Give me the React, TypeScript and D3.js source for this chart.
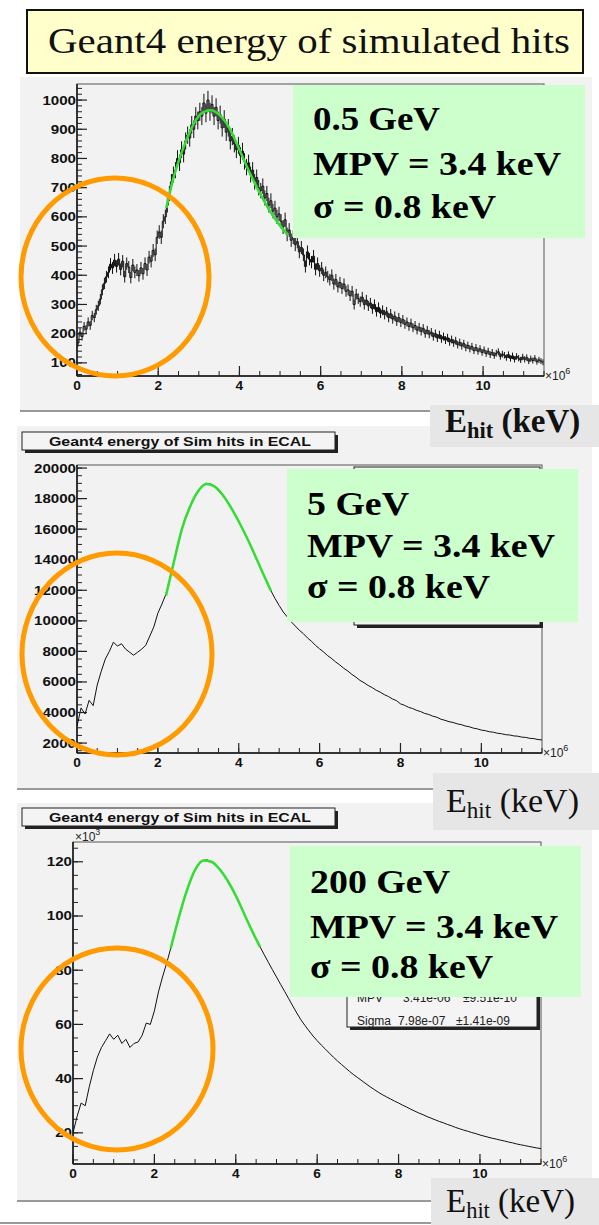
import * as d3 from "d3";

const SERIF = "'Liberation Serif', 'Times New Roman', serif";
const SANS = "'Liberation Sans', Arial, Helvetica, sans-serif";

// x axis: hit energy in units of 1e-6 GeV (= keV)
const xTicks = [0, 2, 4, 6, 8, 10];
const energyLabels = ["0.5 GeV", "5 GeV", "200 GeV"];
const mpvLabel = "MPV = 3.4 keV";
const sigmaLabel = "σ = 0.8 keV";
const histTitle = "Geant4 energy of Sim hits in ECAL";
const pageTitle = "Geant4 energy of simulated hits";

// 0.5 GeV: entries per 0.05 bin
const hist05 = [
  168, 205, 190, 225, 215, 240, 228, 262, 255, 282,
  295, 318, 350, 372, 395, 410, 438, 425, 452, 430,
  455, 420, 448, 395, 440, 428, 392, 435, 410, 418,
  398, 425, 405, 440, 418, 462, 448, 485, 470, 530,
  548, 530, 585, 600, 640, 680, 720, 745, 760, 800,
  785, 830, 815, 860, 880, 870, 915, 900, 945, 930,
  960, 945, 990, 955, 1000, 960, 985, 945, 975, 930,
  950, 905, 935, 890, 905, 860, 875, 850, 830, 845,
  810, 825, 790, 770, 785, 745, 760, 720, 735, 700,
  690, 705, 665, 680, 640, 655, 620, 630, 600, 610,
  585, 565, 590, 540, 555, 520, 530, 505, 515, 480,
  495, 470, 430, 480, 455, 445, 465, 420, 440, 415,
  425, 400, 410, 395, 385, 400, 370, 385, 360, 375,
  355, 370, 345, 350, 330, 345, 300, 335, 320, 310,
  325, 300, 315, 295, 305, 285, 300, 275, 290, 270,
  280, 265, 275, 255, 268, 250, 260, 242, 255, 238,
  248, 232, 240, 225, 236, 220, 228, 212, 222, 208,
  218, 200, 212, 198, 205, 190, 200, 185, 196, 182,
  190, 178, 186, 172, 180, 168, 176, 162, 170, 158,
  166, 152, 160, 148, 156, 142, 152, 140, 148, 136,
  144, 132, 140, 128, 136, 125, 133, 138, 122, 130,
  126, 118, 128, 115, 124, 112, 122, 116, 110, 120,
  112, 118, 106, 114, 108, 116, 104, 110, 106, 102,
];
const fit05X = [2.2, 2.35, 2.5, 2.7, 2.9, 3.1, 3.3, 3.5, 3.75, 4.0, 4.25, 4.5, 4.75, 5.0, 5.2];
const fit05 = [630, 720, 790, 865, 925, 958, 965, 950, 905, 830, 752, 682, 620, 570, 538];

// 5 GeV: entries every 0.1
const hist5 = [
  3100, 4300, 3900, 4800, 4450, 5800, 6700, 7500, 8000, 8600,
  8350, 8500, 8150, 7950, 7750, 7950, 8150, 8400, 9000, 9600,
  10500, 11100, 11750, 12800, 13900, 15100, 16100, 16900, 17500, 18100,
  18550, 18850, 19000, 18950, 18800, 18500, 18200, 17850, 17450, 17000,
  16500, 16000, 15450, 14900, 14300, 13700, 13100, 12500, 11950, 11450,
  11000, 10580, 10260, 9930, 9660, 9380, 9160, 8880, 8660, 8390,
  8170, 7960, 7720, 7530, 7300, 7110, 6890, 6710, 6490, 6310,
  6100, 5950, 5770, 5630, 5460, 5330, 5170, 5050, 4890, 4780,
  4570, 4470, 4340, 4260, 4140, 4060, 3940, 3870, 3760, 3690,
  3560, 3490, 3400, 3350, 3260, 3210, 3120, 3070, 2980, 2930,
  2850, 2810, 2740, 2710, 2640, 2610, 2550, 2530, 2470, 2450,
  2390, 2370, 2310, 2290, 2230, 2210,
];
const fit5X = [2.2, 2.4, 2.6, 2.8, 3.0, 3.2, 3.4, 3.6, 3.8, 4.0, 4.2, 4.4, 4.6, 4.8];
const fit5 = [11650, 13900, 16050, 17500, 18500, 18950, 18800, 18250, 17450, 16500, 15450, 14300, 13100, 11950];

// 200 GeV: entries (x10^3) every 0.1
const hist200 = [
  20, 26, 31, 30, 37, 43, 48, 51.5, 54, 56.5,
  54.5, 56, 53, 54.5, 51.5, 53, 53.5, 56, 60.5, 60,
  65, 72, 77.5, 82.5, 88, 94, 99.5, 104.5, 109.5, 113.5,
  117, 119.3, 120.5, 120.7, 120, 119, 117.3, 115.3, 113, 110.5,
  107.5, 104.3, 101, 97.7, 94.5, 91.5, 88.5, 85.7, 82.9, 80.2,
  77.5, 74.8, 72.2, 69.5, 66.8, 64.2, 61.7, 59.6, 57.6, 55.7,
  54, 52.4, 50.9, 49.4, 47.9, 46.5, 45.2, 43.9, 42.6, 41.4,
  40.3, 39.2, 38.1, 37, 36, 35, 34.1, 33.3, 32.5, 31.7,
  31, 30.2, 29.5, 28.7, 28, 27.3, 26.7, 26, 25.4, 24.8,
  24.2, 23.7, 23.1, 22.6, 22, 21.5, 21, 20.6, 20.1, 19.7,
  19.2, 18.8, 18.4, 18, 17.7, 17.3, 17, 16.6, 16.3, 15.9,
  15.6, 15.3, 15, 14.7, 14.4, 14.2,
];
const fit200X = [2.4, 2.6, 2.8, 3.0, 3.2, 3.4, 3.6, 3.8, 4.0, 4.2, 4.4, 4.6];
const fit200 = [88, 99.5, 109.5, 117, 120.5, 120, 117.3, 113, 107.5, 101, 94.5, 88.5];

const yTicks05 = [100, 200, 300, 400, 500, 600, 700, 800, 900, 1000];
const yTicks5 = [2000, 4000, 6000, 8000, 10000, 12000, 14000, 16000, 18000, 20000];
const yTicks200 = [20, 40, 60, 80, 100, 120];

function Panel({ id, left, right, top, bottom, yDomain, yTicks, yMinor, hist, binStart, binW, step, errors, fitX, fitY }) {
  const x = d3.scaleLinear([0, 11.5], [left, right]);
  const y = d3.scaleLinear(yDomain, [bottom, top]);
  const line = d3.line<number>()
    .x((_, i) => x(binStart + i * binW))
    .y((d) => y(d))
    .curve(step ? d3.curveStep : d3.curveLinear);
  const fit = d3.line<number>()
    .x((_, i) => x(fitX[i]))
    .y((d) => y(d))
    .curve(d3.curveMonotoneX);
  const yMin = d3.range(Math.ceil(yDomain[0] / yMinor) * yMinor, yDomain[1], yMinor);
  const xMin = d3.range(0, 11.51, 0.5);
  return (
    <g>
      <defs>
        <clipPath id={id}>
          <rect x={left} y={top} width={right - left} height={bottom - top} />
        </clipPath>
      </defs>
      <rect x={left} y={top} width={right - left} height={bottom - top} fill="#f2f2f2" stroke="#555" strokeWidth={1} />
      <g clipPath={`url(#${id})`}>
        <path d={line(hist)} fill="none" stroke="#111" strokeWidth={1} />
        {errors && hist.map((v, i) => (
          <line key={i} x1={x(binStart + i * binW)} x2={x(binStart + i * binW)}
            y1={y(v - Math.sqrt(v))} y2={y(v + Math.sqrt(v))} stroke="#111" strokeWidth={1} />
        ))}
        <path d={fit(fitY)} fill="none" stroke="#33dd33" strokeWidth={2.5} />
      </g>
      <line x1={left} x2={left} y1={top} y2={bottom} stroke="#111" strokeWidth={1.5} />
      <line x1={left} x2={right} y1={bottom} y2={bottom} stroke="#111" strokeWidth={1.5} />
      {yMin.map((v) => (
        <line key={"ym" + v} x1={left} x2={left + 5} y1={y(v)} y2={y(v)} stroke="#222" />
      ))}
      {yTicks.map((v) => (
        <g key={"y" + v}>
          <line x1={left} x2={left + 10} y1={y(v)} y2={y(v)} stroke="#222" strokeWidth={1.2} />
          <text x={left - 1} y={y(v) + 4.5} textAnchor="end" fontFamily={SANS} fontWeight="bold" fontSize={13}
            textLength={String(v).length * 8.4} lengthAdjust="spacingAndGlyphs" fill="#111">{v}</text>
        </g>
      ))}
      {xMin.map((v) => (
        <line key={"xm" + v} x1={x(v)} x2={x(v)} y1={bottom} y2={bottom - 5} stroke="#222" />
      ))}
      {xTicks.map((v) => (
        <g key={"x" + v}>
          <line x1={x(v)} x2={x(v)} y1={bottom} y2={bottom - 10} stroke="#222" strokeWidth={1.2} />
          <text x={x(v)} y={bottom + 14} textAnchor="middle" fontFamily={SANS} fontWeight="bold" fontSize={13}
            textLength={String(v).length * 7.6} lengthAdjust="spacingAndGlyphs" fill="#111">{v}</text>
        </g>
      ))}
      <text x={right + 1} y={bottom + 4} fontFamily={SANS} fontSize={12} fill="#222">
        ×10<tspan dy={-6} fontSize={9}>6</tspan>
      </text>
    </g>
  );
}

function GreenBox({ x, y, w, h, label, labelW, lines }) {
  return (
    <g>
      <rect x={x} y={y} width={w} height={h} fill="#ccffcc" />
      <text x={x + 20} y={lines[0]} fontFamily={SERIF} fontWeight="bold" fontSize={34} textLength={labelW} lengthAdjust="spacingAndGlyphs">{label}</text>
      <text x={x + 20} y={lines[1]} fontFamily={SERIF} fontWeight="bold" fontSize={34} textLength={248} lengthAdjust="spacingAndGlyphs">{mpvLabel}</text>
      <text x={x + 20} y={lines[2]} fontFamily={SERIF} fontWeight="bold" fontSize={34} textLength={183} lengthAdjust="spacingAndGlyphs">{sigmaLabel}</text>
    </g>
  );
}

function Pave({ x, y, w, h }) {
  return (
    <g>
      <rect x={x + 3} y={y + 3} width={w} height={h} fill="#222" />
      <rect x={x} y={y} width={w} height={h} fill="#f4f4f4" stroke="#222" strokeWidth={1} />
    </g>
  );
}

function EhitLabel({ x, y, w, h, tx, ty, bold, size }) {
  return (
    <g>
      <rect x={x} y={y} width={w} height={h} fill="#e6e6e6" />
      <text x={tx} y={ty} fontFamily={SERIF} fontWeight={bold ? "bold" : "normal"} fontSize={size} fill="#111">
        E<tspan dy={6} fontSize={size * 0.68}>hit</tspan><tspan dy={-6}> (keV)</tspan>
      </text>
    </g>
  );
}

export default function App() {
  return (
    <svg width={599} height={1225} style={{ position: "absolute", left: 0, top: 0, background: "#fff" }}>
      {/* page title */}
      <rect x={27} y={10} width={556} height={63} fill="#ffffcc" stroke="#111" strokeWidth={2} />
      <text x={48} y={53} fontFamily={SERIF} fontSize={36} textLength={522} lengthAdjust="spacingAndGlyphs" fill="#111">{pageTitle}</text>

      {/* panel 1 */}
      <rect x={20} y={77} width={572} height={333} fill="#f2f2f2" />
      <line x1={20} x2={430} y1={411} y2={411} stroke="#999" strokeWidth={2} />
      <Panel id="c1" left={77} right={544} top={84} bottom={376} yDomain={[55, 1055]} yTicks={yTicks05} yMinor={20}
        hist={hist05} binStart={0.025} binW={0.05} step errors fitX={fit05X} fitY={fit05} />
      <GreenBox x={293} y={85} w={292} h={153} label={energyLabels[0]} labelW={127} lines={[130, 175, 218]} />
      <ellipse cx={115} cy={277} rx={94} ry={99} fill="none" stroke="#ff9a00" strokeWidth={5} />

      {/* panel 2 */}
      <rect x={17} y={426} width={575} height={362} fill="#f2f2f2" />
      <line x1={17} x2={433} y1={789} y2={789} stroke="#999" strokeWidth={2} />
      <Pave x={22} y={432} w={313} h={18} />
      <text x={180} y={446} textAnchor="middle" fontFamily={SANS} fontWeight="bold" fontSize={13} textLength={262} lengthAdjust="spacingAndGlyphs" fill="#111">{histTitle}</text>
      <Panel id="c2" left={77} right={542} top={465} bottom={753} yDomain={[1350, 20200]} yTicks={yTicks5} yMinor={500}
        hist={hist5} binStart={0} binW={0.1} step={false} errors={false} fitX={fit5X} fitY={fit5} />
      <Pave x={354} y={467} w={186} h={158} />
      <GreenBox x={287} y={469} w={291} h={153} label={energyLabels[1]} labelW={102} lines={[515, 557, 598]} />
      <ellipse cx={117} cy={654} rx={95} ry={101} fill="none" stroke="#ff9a00" strokeWidth={5} />

      {/* panel 3 */}
      <rect x={17} y={803} width={575} height={397} fill="#f2f2f2" />
      <line x1={17} x2={431} y1={1201} y2={1201} stroke="#999" strokeWidth={2} />
      <line x1={0} x2={431} y1={1223} y2={1223} stroke="#999" strokeWidth={2} />
      <Pave x={22} y={808} w={313} h={18} />
      <text x={180} y={822} textAnchor="middle" fontFamily={SANS} fontWeight="bold" fontSize={13} textLength={262} lengthAdjust="spacingAndGlyphs" fill="#111">{histTitle}</text>
      <Panel id="c3" left={73} right={541} top={842} bottom={1164} yDomain={[8.5, 127.3]} yTicks={yTicks200} yMinor={5}
        hist={hist200} binStart={0} binW={0.1} step={false} errors={false} fitX={fit200X} fitY={fit200} />
      <text x={75} y={841} fontFamily={SANS} fontSize={12} fill="#222">×10<tspan dy={-6} fontSize={9}>3</tspan></text>
      <Pave x={347} y={870} w={190} h={157} />
      <text x={357} y={1002} fontFamily={SANS} fontSize={12} fill="#222">MPV</text>
      <text x={403} y={1002} fontFamily={SANS} fontSize={12} fill="#222">3.41e-06</text>
      <text x={463} y={1002} fontFamily={SANS} fontSize={12} fill="#222">±9.51e-10</text>
      <text x={357} y={1025} fontFamily={SANS} fontSize={12} fill="#222">Sigma</text>
      <text x={398} y={1025} fontFamily={SANS} fontSize={12} fill="#222">7.98e-07</text>
      <text x={456} y={1025} fontFamily={SANS} fontSize={12} fill="#222">±1.41e-09</text>
      <GreenBox x={290} y={846} w={291} h={151} label={energyLabels[2]} labelW={140} lines={[893, 938, 978]} />
      <ellipse cx={117} cy={1049} rx={96} ry={101} fill="none" stroke="#ff9a00" strokeWidth={5} />

      {/* axis captions on top of everything */}
      <EhitLabel x={430} y={405} w={169} h={42} tx={445} ty={432} bold size={33} />
      <EhitLabel x={433} y={773} w={166} h={57} tx={446} ty={812} bold={false} size={34} />
      <EhitLabel x={431} y={1178} w={168} h={47} tx={446} ty={1212} bold={false} size={33} />
    </svg>
  );
}
